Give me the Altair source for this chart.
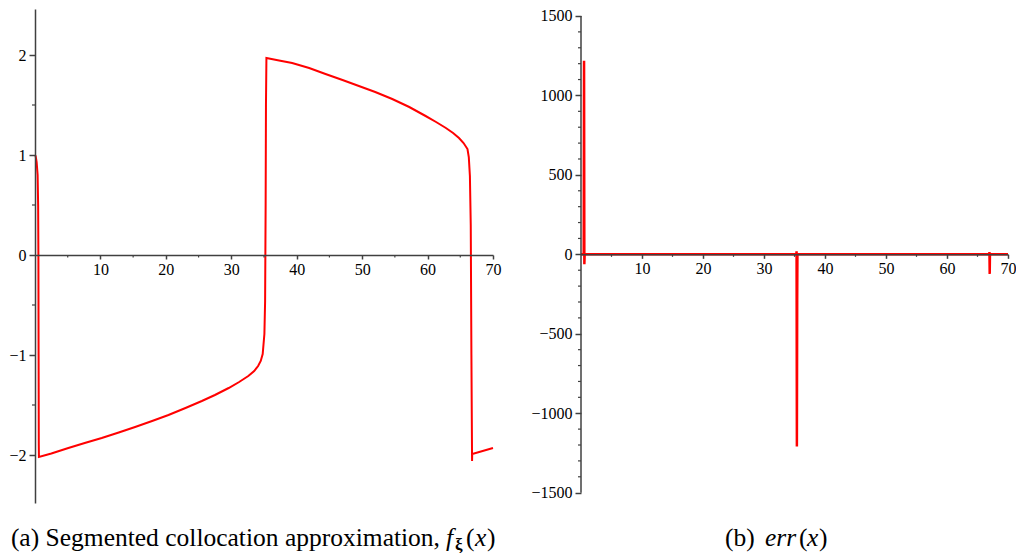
import altair as alt
import pandas as pd

# ---------------- data ----------------
f_x = [0, 0.1, 0.25, 0.4, 0.48, 0.52, 0.55, 0.58, 0.6, 2.5, 5.1, 7.6, 10.2, 12.8, 15.3, 17.9,
       20.4, 23.0, 25.5, 27.5, 29.6, 31.2, 32.6, 33.5, 34.1, 34.5, 34.8, 35.06, 35.17, 35.25,
       35.3, 35.37, 37.3, 39.3, 41.9, 44.4, 47.0, 49.5, 52.0, 54.6, 57.2, 59.7, 61.3, 62.8,
       63.9, 64.8, 65.5, 66.1, 66.3, 66.47, 66.6, 66.7, 66.8, 66.82, 70]
f_y = [1.0, 0.99, 0.93, 0.8, 0.5, 0.0, -1.0, -1.9, -2.02, -1.985, -1.93, -1.88, -1.83, -1.775,
       -1.72, -1.66, -1.60, -1.53, -1.46, -1.40, -1.33, -1.27, -1.21, -1.16, -1.11, -1.06,
       -0.99, -0.79, -0.46, 0.5, 1.5, 1.97, 1.945, 1.92, 1.87, 1.81, 1.75, 1.69, 1.63, 1.56,
       1.48, 1.39, 1.33, 1.27, 1.22, 1.17, 1.12, 1.06, 0.98, 0.79, 0.3, -1.0, -2.06, -1.99, -1.93]

err_x = [0, 0.45, 0.5, 0.55, 0.6, 35.3, 35.34, 35.39, 35.44, 35.48, 66.92, 66.96, 67.0, 67.04, 70]
err_y = [0, 0, 1219, -62, 0, 0, 19, -1210, -290, 0, 0, 14, -123, 0, 0]

left_y_major = [-2, -1, 0, 1, 2]
left_y_minor = [-1.5, -0.5, 0.5, 1.5]
x_major = [10, 20, 30, 40, 50, 60, 70]
x_minor = [5, 15, 25, 35, 45, 55, 65]
right_y_major = [-1500, -1000, -500, 0, 500, 1000, 1500]
right_y_minor = [-1400, -1300, -1200, -1100, -900, -800, -700, -600, -400, -300, -200, -100,
                 100, 200, 300, 400, 600, 700, 800, 900, 1100, 1200, 1300, 1400]

caption_a = ["(a) Segmented collocation approximation,", "f", "ξ", "(", "x", ")"]
caption_b = ["(b)", "err", "(", "x", ")"]

# ---------------- layout / style ----------------
X_DOMAIN = [0, 70]
L_Y_DOMAIN = [-2.48, 2.46]
R_Y_DOMAIN = [-1565, 1544]
L_W, R_W, H = 458, 427, 494
AXIS_COLOR = "#404040"
RED = "#ff0000"
SERIF = "Liberation Serif"
CAP_SIZE = 25.5
BASE = 545

# caption piece styles: (page-x, baseline page-y, align, style, weight, size)
cap_a_style = [(441, BASE, "right", "normal", "normal", CAP_SIZE),
               (447, BASE, "left", "italic", "normal", CAP_SIZE),
               (456, BASE + 4, "left", "normal", "bold", 17),
               (467, BASE, "left", "normal", "normal", CAP_SIZE),
               (476, BASE, "left", "italic", "normal", CAP_SIZE),
               (488, BASE, "left", "normal", "normal", CAP_SIZE)]
cap_b_style = [(725, BASE, "left", "normal", "normal", CAP_SIZE),
               (765, BASE, "left", "italic", "normal", CAP_SIZE),
               (799, BASE, "left", "normal", "normal", CAP_SIZE),
               (807, BASE, "left", "italic", "normal", CAP_SIZE),
               (819, BASE, "left", "normal", "normal", CAP_SIZE)]


def zero_px(dom, h):
    return h * dom[1] / (dom[1] - dom[0])


def panel(xs_data, ys_data, ydom, width, y_major, y_minor, own_y_rule, line_w,
          cap_texts, cap_styles, origin):
    xs = alt.Scale(domain=X_DOMAIN, nice=False, zero=False)
    ys = alt.Scale(domain=ydom, nice=False, zero=False)
    y0 = zero_px(ydom, H)
    x_axis = alt.Axis(values=x_major, orient="bottom", offset=-(H - y0), tickSize=4,
                      labelPadding=2, format="d", zindex=1, labelFlush=False,
                      labelOverlap=False, domain=True, title=None)
    y_axis = alt.Axis(values=y_major, orient="left", tickSize=6, labelPadding=3, format="d",
                      zindex=1, domain=not own_y_rule, labelOverlap=False, title=None)

    df = pd.DataFrame({"x": xs_data, "y": ys_data, "i": list(range(len(xs_data)))})
    line = alt.Chart(df).mark_line(color=RED, strokeWidth=line_w, clip=False).encode(
        x=alt.X("x:Q", scale=xs, axis=x_axis),
        y=alt.Y("y:Q", scale=ys, axis=y_axis),
        order="i:Q",
    )

    layers = [line]

    ymin = pd.DataFrame({"v": y_minor})
    layers.append(alt.Chart(ymin).mark_rule(color=AXIS_COLOR, strokeWidth=1.2).encode(
        y=alt.Y("v:Q", scale=ys, axis=y_axis), x=alt.value(-3), x2=alt.value(0)))

    xmin = pd.DataFrame({"v": x_minor})
    layers.append(alt.Chart(xmin).mark_rule(color=AXIS_COLOR, strokeWidth=1.2).encode(
        x=alt.X("v:Q", scale=xs, axis=x_axis), y=alt.value(y0), y2=alt.value(y0 + 2.5)))

    if own_y_rule:
        yr = pd.DataFrame({"a": [min(y_major)], "b": [max(y_major)]})
        layers.append(alt.Chart(yr).mark_rule(color=AXIS_COLOR, strokeWidth=1.5).encode(
            y=alt.Y("a:Q", scale=ys, axis=y_axis), y2="b:Q", x=alt.value(0)))

    ox, oy = origin
    for t, (px, py, al, st, wt, sz) in zip(cap_texts, cap_styles):
        cdf = pd.DataFrame({"t": [t]})
        layers.append(alt.Chart(cdf).mark_text(
            align=al, baseline="alphabetic", font=SERIF, fontSize=sz, fontStyle=st,
            fontWeight=wt, color="black").encode(
            text="t:N", x=alt.value(px - ox), y=alt.value(py - oy)))

    return alt.layer(*layers).properties(width=width, height=H)


left = panel(f_x, f_y, L_Y_DOMAIN, L_W, left_y_major, left_y_minor, False, 2,
             caption_a, cap_a_style, (36, 8))
right = panel(err_x, err_y, R_Y_DOMAIN, R_W, right_y_major, right_y_minor, True, 2.5,
              caption_b, cap_b_style, (581, 8))

chart = alt.hconcat(left, right, spacing=29).properties(
    padding={"left": 0, "top": -1, "right": 0, "bottom": 0}
).configure_view(strokeWidth=0).configure_axis(
    domainColor=AXIS_COLOR, domainWidth=1.5, tickColor=AXIS_COLOR, tickWidth=1.5,
    labelColor="black", labelFont=SERIF, labelFontSize=16, grid=False,
)

chart.save("out.html", embed_options={"renderer": "svg", "actions": False})
